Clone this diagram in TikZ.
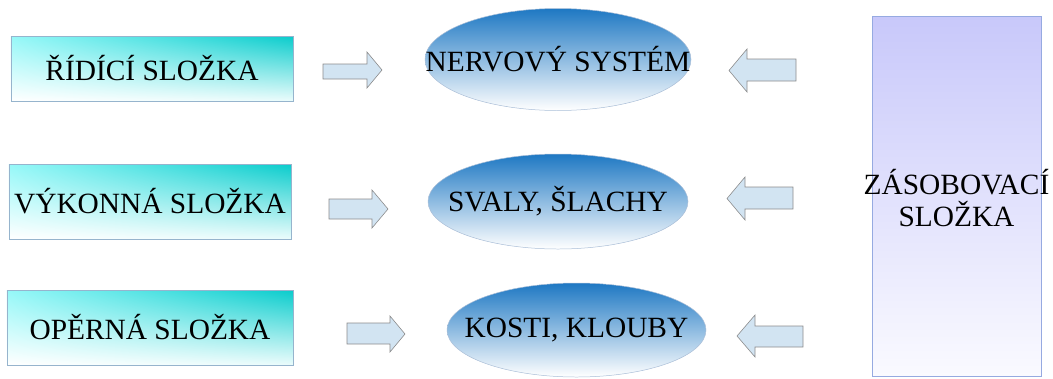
\documentclass[tikz,border=0pt]{standalone}
\usepackage{fontspec}
\setmainfont{Liberation Serif}
\usetikzlibrary{shapes.geometric,shadings}
\definecolor{cyanD}{RGB}{10,204,204}
\definecolor{cyanL}{RGB}{150,248,248}
\definecolor{cyanB}{RGB}{235,252,252}
\definecolor{boxline}{RGB}{150,180,205}
\definecolor{bluetop}{RGB}{30,120,195}
\definecolor{bluemid}{RGB}{85,155,218}
\definecolor{ellline}{RGB}{170,190,215}
\definecolor{lavtop}{RGB}{200,200,250}
\definecolor{lavbot}{RGB}{250,250,255}
\definecolor{lavline}{RGB}{150,170,225}
\definecolor{arrfill}{RGB}{210,228,242}
\definecolor{arrline}{RGB}{140,140,140}
\tikzset{
  comp/.style={rectangle, draw=boxline, line width=0.6pt, inner sep=0pt,
    upper left=cyanL, upper right=cyanD, lower left=white, lower right=cyanB},
  organ/.style={ellipse, draw=ellline, line width=0.5pt, inner sep=0pt,
    top color=bluetop, middle color=bluemid, bottom color=white},
  supply/.style={rectangle, draw=lavline, line width=0.6pt, inner sep=0pt,
    top color=lavtop, bottom color=lavbot},
  blockarrow/.style={draw=arrline, fill=arrfill, line width=0.6pt, line join=miter},
  lbl/.style={font=\fontsize{29.5}{33}\selectfont, text=black, align=center}
}
\begin{document}
\begin{tikzpicture}[x=1bp,y=-1bp]
\useasboundingbox (0,0) rectangle (1053,378);
% left boxes
\node[comp, minimum width=282bp, minimum height=65bp] (ridici) at (152,68.5) {};
\node[comp, minimum width=282bp, minimum height=75bp] (vykonna) at (150,201.5) {};
\node[comp, minimum width=286bp, minimum height=75bp] (operna) at (150,327.5) {};
\node[lbl] at (ridici) {ŘÍDÍCÍ SLOŽKA};
\node[lbl] at (vykonna) {VÝKONNÁ SLOŽKA};
\node[lbl] at (operna) {OPĚRNÁ SLOŽKA};
% ellipses
\node[organ, minimum width=266bp, minimum height=102bp] (nerv) at (558,59.5) {};
\node[organ, minimum width=260bp, minimum height=95bp] (svaly) at (558,201.5) {};
\node[organ, minimum width=259bp, minimum height=94bp] (kosti) at (576.5,330) {};
\node[lbl] at (nerv) {NERVOVÝ SYSTÉM};
\node[lbl] at (svaly) {SVALY, ŠLACHY};
\node[lbl] at (kosti) {KOSTI, KLOUBY};
% supply box
\node[supply, minimum width=169bp, minimum height=360bp] (zas) at (956.5,196) {};
\node[lbl] at ([yshift=-2bp]zas.center) {ZÁSOBOVACÍ\\SLOŽKA};
% right-pointing arrows
\draw[blockarrow] (323,64) -- (367,64) -- (367,52) -- (382,70) -- (367,88) -- (367,79) -- (323,79) -- cycle;
\draw[blockarrow] (329,199) -- (372,199) -- (372,190) -- (388,209) -- (372,228) -- (372,219) -- (329,219) -- cycle;
\draw[blockarrow] (347,323) -- (390,323) -- (390,316) -- (405,334) -- (390,352) -- (390,344) -- (347,344) -- cycle;
% left-pointing arrows
\draw[blockarrow] (796,59) -- (747,59) -- (747,49) -- (729,70.5) -- (747,92) -- (747,81) -- (796,81) -- cycle;
\draw[blockarrow] (793,187) -- (745,187) -- (745,177) -- (727,198.5) -- (745,220) -- (745,209) -- (793,209) -- cycle;
\draw[blockarrow] (803,326) -- (755,326) -- (755,315) -- (737,336) -- (755,357) -- (755,347) -- (803,347) -- cycle;
\end{tikzpicture}
\end{document}
